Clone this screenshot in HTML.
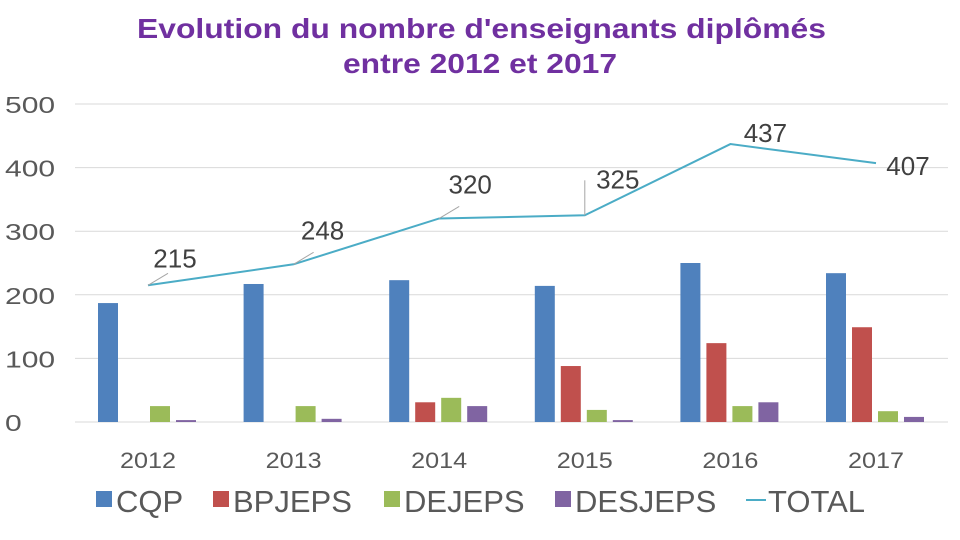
<!DOCTYPE html>
<html><head><meta charset="utf-8"><style>
body{margin:0;background:#fff;}
svg{display:block;font-family:"Liberation Sans",sans-serif;}
</style></head><body>
<svg id="chart" width="960" height="540" viewBox="0 0 960 540">
<text x="137" y="38" textLength="689" lengthAdjust="spacingAndGlyphs" font-size="28" font-weight="bold" fill="#7030A0">Evolution du nombre d'enseignants diplômés</text>
<text x="343" y="73" textLength="274" lengthAdjust="spacingAndGlyphs" font-size="28" font-weight="bold" fill="#7030A0">entre 2012 et 2017</text>
<g id="grid"></g><g id="bars"></g><g id="line"></g><g id="labels"></g>
<g font-size="31" fill="#595959">
<rect x="96" y="491" width="16" height="16" fill="#4F81BD"/>
<text x="116" y="512">CQP</text>
<rect x="213" y="491" width="16" height="16" fill="#C0504D"/>
<text x="233" y="512">BPJEPS</text>
<rect x="384" y="491" width="16" height="16" fill="#9BBB59"/>
<text x="404" y="512">DEJEPS</text>
<rect x="555" y="491" width="16" height="16" fill="#8064A2"/>
<text x="575" y="512">DESJEPS</text>
<line x1="746" y1="500" x2="766" y2="500" stroke="#4BACC6" stroke-width="2"/>
<text x="768" y="512">TOTAL</text>
</g>
</svg>
<script>
const categories=["2012","2013","2014","2015","2016","2017"];
const cqp=[187,217,223,214,250,234];
const bpjeps=[0,0,31,88,124,149];
const dejeps=[25,25,38,19,25,17];
const desjeps=[3,5,25,3,31,8];
const total=[215,248,320,325,437,407];
const yTicks=[0,100,200,300,400,500];
const NS="http://www.w3.org/2000/svg";
function y(v){return 422-v*(318/500);}
function xc(i){return 148+i*145.6;}
function mk(tag,attrs,parent){const e=document.createElementNS(NS,tag);for(const k in attrs)e.setAttribute(k,attrs[k]);document.getElementById(parent).appendChild(e);return e;}
yTicks.forEach(t=>{
 const l=mk("line",{x1:75,x2:948,y1:y(t),y2:y(t),stroke:"#D9D9D9","stroke-width":1},"grid");
 
 
 const len=String(t).length*16.7;
 const tx=mk("text",{x:5,y:y(t)+9,"font-size":23,fill:"#595959",textLength:len,lengthAdjust:"spacingAndGlyphs"},"grid");tx.textContent=t;
 
 
});
categories.forEach((c,i)=>{
 const tx=mk("text",{x:xc(i)-28,y:468,"font-size":22,fill:"#595959",textLength:56,lengthAdjust:"spacingAndGlyphs"},"grid");tx.textContent=c;
 
 
});
const series=[[cqp,"#4F81BD","cqp"],[bpjeps,"#C0504D","bpjeps"],[dejeps,"#9BBB59","dejeps"],[desjeps,"#8064A2","desjeps"]];
series.forEach((s,si)=>{
 s[0].forEach((v,i)=>{
  const x=xc(i)-50+si*26;
  const r=mk("rect",{x:x,y:y(v),width:20,height:422-y(v),fill:s[1]},"bars");
  
  
 });
});
const pts=total.map((v,i)=>xc(i)+","+y(v)).join(" ");
const pl=mk("polyline",{points:pts,fill:"none",stroke:"#4BACC6","stroke-width":2},"line");


const offs=[[2,-18],[4,-25],[6,-25],[8,-27],[10,-2],[7,12]];
total.forEach((v,i)=>{
 const px=xc(i),py=y(v);
 const lx=px+offs[i][0]+25,ly=py+offs[i][1];
 if(i<5){const ll=mk("line",{x1:px,y1:py,x2:(i==3?px:px+(i==4?0:20)),y2:(i==3?py-35:py-(i==4?0:12)),stroke:"#A6A6A6","stroke-width":1},"labels");
 
 }
 const tx=mk("text",{x:lx,y:ly,"font-size":26,fill:"#404040","text-anchor":"middle"},"labels");tx.textContent=v;
 
 
});
</script>
</body></html>
